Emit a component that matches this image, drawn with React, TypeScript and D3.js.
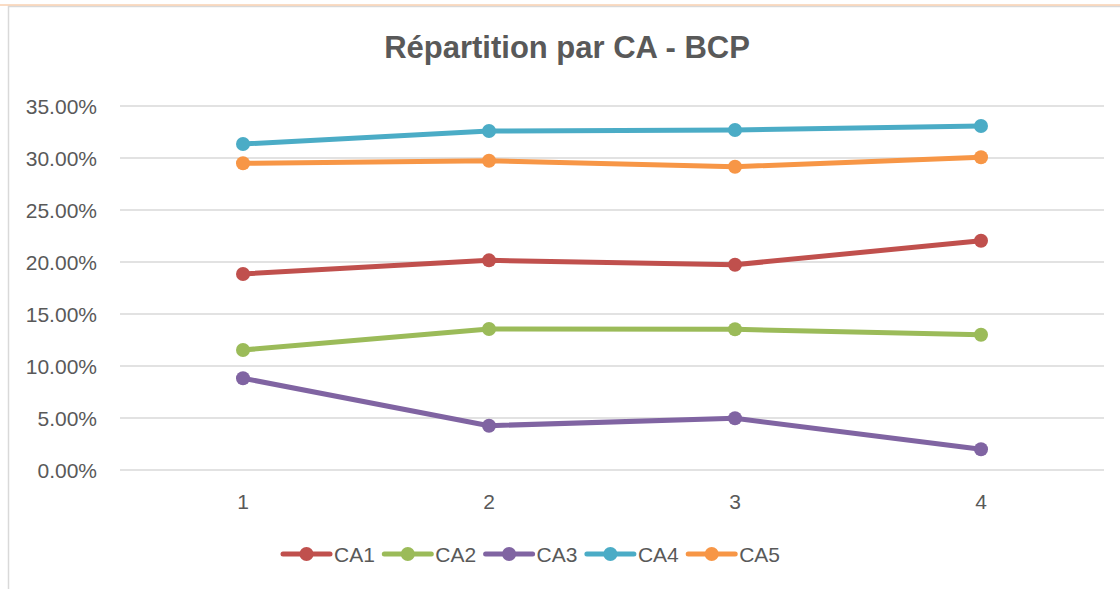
import { useRef, useEffect, FC } from 'react';
import * as d3 from 'd3';

const categories = ['1', '2', '3', '4'];
const seriesNames = ['CA1', 'CA2', 'CA3', 'CA4', 'CA5'];
const ca1 = [0.1885, 0.2016, 0.1974, 0.2205];
const ca2 = [0.1154, 0.1356, 0.1353, 0.1301];
const ca3 = [0.0882, 0.0426, 0.0497, 0.0199];
const ca4 = [0.3135, 0.326, 0.3269, 0.3308];
const ca5 = [0.2949, 0.2974, 0.2916, 0.3007];
const yTicks = [0, 0.05, 0.1, 0.15, 0.2, 0.25, 0.3, 0.35];
const colors = ['#C0504D', '#9BBB59', '#8064A2', '#4BACC6', '#F79646'];

const W = 1120;
const H = 589;
const TEXT = '#595959';
const FONT = '"Liberation Sans", Arial, sans-serif';

const App: FC = () => {
  const svgRef = useRef<SVGSVGElement | null>(null);

  useEffect(() => {
    const svg = d3.select(svgRef.current);
    svg.selectAll('*').remove();

    const series = [ca1, ca2, ca3, ca4, ca5];

    const x = d3.scaleBand<string>().domain(categories).range([120, 1104]);
    const y = d3.scaleLinear().domain([0, 0.35]).range([470, 106]);

    // chart frame (only top and left edges are visible in the crop)
    svg.append('rect')
      .attr('x', 8.5).attr('y', 6.5)
      .attr('width', W).attr('height', H)
      .attr('fill', '#fff')
      .attr('stroke', '#D9D9D9')
      .attr('stroke-width', 1.5);
    svg.append('line')
      .attr('x1', 0).attr('x2', W)
      .attr('y1', 5).attr('y2', 5)
      .attr('stroke', '#F6B98A')
      .attr('stroke-width', 1.2);

    svg.append('text')
      .attr('x', 567).attr('y', 58)
      .attr('text-anchor', 'middle')
      .attr('font-family', FONT)
      .attr('font-weight', 'bold')
      .attr('font-size', 31)
      .attr('fill', TEXT)
      .text('Répartition par CA - BCP');

    // gridlines + y labels
    const fmt = d3.format('.2%');
    const grid = svg.append('g');
    yTicks.forEach(t => {
      grid.append('line')
        .attr('x1', 120).attr('x2', 1104)
        .attr('y1', y(t)).attr('y2', y(t))
        .attr('stroke', '#D9D9D9')
        .attr('stroke-width', 1.5);
      grid.append('text')
        .attr('x', 97).attr('y', y(t) + 7.5)
        .attr('text-anchor', 'end')
        .attr('font-family', FONT)
        .attr('font-size', 21)
        .attr('fill', TEXT)
        .text(fmt(t));
    });

    // x labels
    categories.forEach(c => {
      svg.append('text')
        .attr('x', (x(c) as number) + x.bandwidth() / 2)
        .attr('y', 509)
        .attr('text-anchor', 'middle')
        .attr('font-family', FONT)
        .attr('font-size', 21)
        .attr('fill', TEXT)
        .text(c);
    });

    const line = d3.line<number>()
      .x((_d, i) => (x(categories[i]) as number) + x.bandwidth() / 2)
      .y(d => y(d));

    series.forEach((s, k) => {
      const g = svg.append('g');
      g.append('path')
        .attr('d', line(s))
        .attr('fill', 'none')
        .attr('stroke', colors[k])
        .attr('stroke-width', 5)
        .attr('stroke-linejoin', 'round')
        .attr('stroke-linecap', 'round');
      g.selectAll('circle')
        .data(s)
        .join('circle')
        .attr('cx', (_d, i) => (x(categories[i]) as number) + x.bandwidth() / 2)
        .attr('cy', d => y(d))
        .attr('r', 7)
        .attr('fill', colors[k]);
    });

    // legend
    const legend = svg.append('g');
    seriesNames.forEach((name, k) => {
      const lx = 283 + k * 101.3;
      legend.append('line')
        .attr('x1', lx).attr('x2', lx + 47)
        .attr('y1', 554).attr('y2', 554)
        .attr('stroke', colors[k])
        .attr('stroke-width', 5)
        .attr('stroke-linecap', 'round');
      legend.append('circle')
        .attr('cx', lx + 23.5).attr('cy', 554)
        .attr('r', 7)
        .attr('fill', colors[k]);
      legend.append('text')
        .attr('x', lx + 51).attr('y', 562)
        .attr('font-family', FONT)
        .attr('font-size', 21)
        .attr('fill', TEXT)
        .text(name);
    });
  }, []);

  return (
    <svg
      ref={svgRef}
      width={W}
      height={H}
      style={{ position: 'absolute', left: 0, top: 0, background: '#fff' }}
    />
  );
};

export default App;
